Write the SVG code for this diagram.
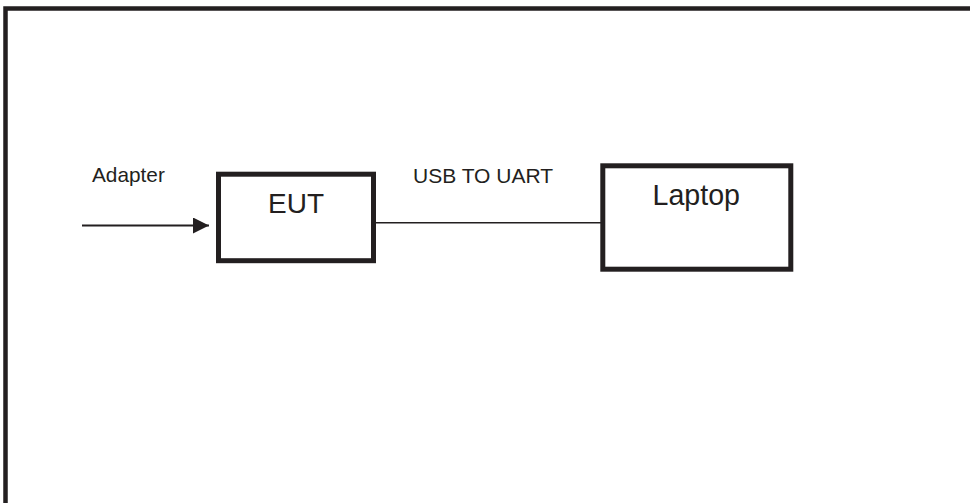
<svg xmlns="http://www.w3.org/2000/svg" width="970" height="503" viewBox="0 0 970 503">
<style>
.box{fill:#fff;stroke:#231f20;stroke-width:5}
.lbl{font-family:"Liberation Sans",Arial,sans-serif;fill:#231f20}
.conn{stroke:#231f20;fill:none}
</style>
<defs>
<marker id="arr" markerUnits="userSpaceOnUse" markerWidth="18" markerHeight="16" refX="16" refY="8" orient="auto">
<path d="M0,0 L16,8 L0,16 Z" fill="#231f20"/>
</marker>
</defs>
<rect width="970" height="503" fill="#fff"/>
<g id="frame">
<path d="M5.5,520 L5.5,8.5 L980,8.5" fill="none" stroke="#231f20" stroke-width="4.5"/>
</g>
<g id="connectors">
<line class="conn" x1="82" y1="225.5" x2="209" y2="225.5" stroke-width="2" marker-end="url(#arr)"/>
<line class="conn" x1="376" y1="222.8" x2="601" y2="222.8" stroke-width="1.5"/>
<text class="lbl" x="92" y="182" font-size="20.8">Adapter</text>
<text class="lbl" x="413" y="183" font-size="21">USB TO UART</text>
</g>
<g id="eut">
<rect class="box" x="218.5" y="174.2" width="155" height="86.5"/>
<text class="lbl" x="268" y="213.3" font-size="28">EUT</text>
</g>
<g id="laptop">
<rect class="box" x="602.8" y="165.8" width="188" height="103.4"/>
<text class="lbl" x="652.5" y="205" font-size="28.6">Laptop</text>
</g>
</svg>
